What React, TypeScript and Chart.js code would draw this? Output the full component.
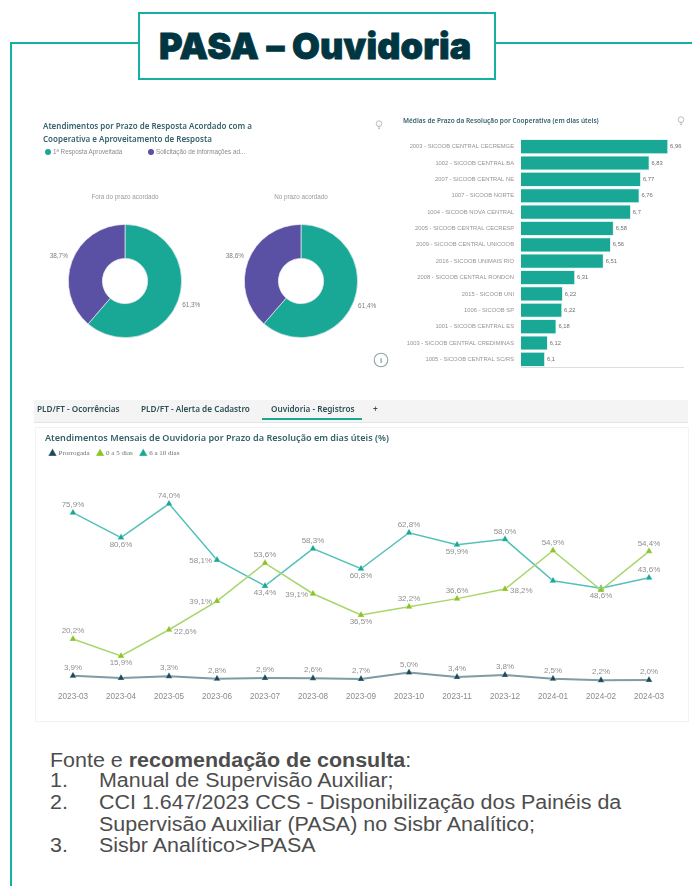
import React, { useEffect, useRef } from "react";
import { Chart, registerables } from "chart.js";

Chart.register(...registerables);

// ---------- donut data
const donutCategories = ["1ª Resposta Aproveitada", "Solicitação de informações ad..."];
const foraDoPrazo = [61.3, 38.7];
const noPrazo = [61.4, 38.6];
const foraLabels = ["61,3%", "38,7%"];
const noPrazoLabels = ["61,4%", "38,6%"];

// ---------- bar data
const cooperativas = [
  "2003 - SICOOB CENTRAL CECREMGE",
  "1002 - SICOOB CENTRAL BA",
  "2007 - SICOOB CENTRAL NE",
  "1007 - SICOOB NORTE",
  "1004 - SICOOB NOVA CENTRAL",
  "2005 - SICOOB CENTRAL CECRESP",
  "2009 - SICOOB CENTRAL UNICOOB",
  "2016 - SICOOB UNIMAIS RIO",
  "2008 - SICOOB CENTRAL RONDON",
  "2015 - SICOOB UNI",
  "1006 - SICOOB SP",
  "1001 - SICOOB CENTRAL ES",
  "1003 - SICOOB CENTRAL CREDIMINAS",
  "1005 - SICOOB CENTRAL SC/RS",
];
const mediasPrazo = [6.96, 6.83, 6.77, 6.76, 6.7, 6.58, 6.56, 6.51, 6.31, 6.225, 6.22, 6.18, 6.12, 6.1];
const mediasLabels = ["6,96", "6,83", "6,77", "6,76", "6,7", "6,58", "6,56", "6,51", "6,31", "6,22", "6,22", "6,18", "6,12", "6,1"];

// ---------- line data
const meses = [
  "2023-03", "2023-04", "2023-05", "2023-06", "2023-07", "2023-08", "2023-09",
  "2023-10", "2023-11", "2023-12", "2024-01", "2024-02", "2024-03",
];
const prorrogada = [4.0, 3.1, 3.8, 2.8, 3.1, 3.0, 2.7, 5.3, 3.5, 4.3, 2.8, 2.2, 2.3];
const zeroACinco = [19.0, 12.1, 22.8, 34.5, 50.0, 37.5, 28.8, 32.2, 35.5, 39.4, 55.1, 39.0, 54.8];
const seisADez = [70.6, 60.4, 74.2, 51.3, 40.7, 55.9, 47.7, 62.4, 57.5, 59.7, 42.8, 39.7, 44.0];
const prorrogadaLabels = ["3,9%", "", "3,3%", "2,8%", "2,9%", "2,6%", "2,7%", "5,0%", "3,4%", "3,8%", "2,5%", "2,2%", "2,0%"];
const zeroACincoLabels = ["20,2%", "15,9%", "22,6%", "39,1%", "53,6%", "39,1%", "36,5%", "32,2%", "36,6%", "38,2%", "54,9%", "", "54,4%"];
const seisADezLabels = ["75,9%", "80,6%", "74,0%", "58,1%", "43,4%", "58,3%", "60,8%", "62,8%", "59,9%", "58,0%", "", "48,6%", "43,6%"];

// label placement relative to each point: a above, b below, l left, r right
const prorrogadaPlace = "aaaaaaaaaaaaa".split("");
const zeroACincoPlace = "abrlalbaaraaa".split("");
const seisADezPlace = "abalbababaaba".split("");

const TEAL = "#19a896";
const PURPLE = "#5a50a4";
const GREY_TEXT = "#8f8f8f";
const SANS = "'Liberation Sans', Arial, sans-serif";
const PLEX = "'Noto Sans', sans-serif";

function DonutChart({ values, labels, title, left, top }: any) {
  const ref = useRef<HTMLCanvasElement>(null);
  useEffect(() => {
    const valuePlugin = {
      id: "donutLabels",
      afterDatasetsDraw(chart: any) {
        const ctx = chart.ctx;
        const meta = chart.getDatasetMeta(0);
        ctx.save();
        ctx.font = `6.4px ${SANS}`;
        ctx.fillStyle = "#7d7d7d";
        ctx.textAlign = "center";
        ctx.textBaseline = "middle";
        meta.data.forEach((arc: any, i: number) => {
          const mid = (arc.startAngle + arc.endAngle) / 2;
          const r = arc.outerRadius + 14;
          ctx.fillText(labels[i], arc.x + Math.cos(mid) * r, arc.y + Math.sin(mid) * r);
        });
        ctx.restore();
      },
    };
    const chart = new Chart(ref.current!, {
      type: "doughnut",
      data: {
        labels: donutCategories,
        datasets: [{ data: values, backgroundColor: [TEAL, PURPLE], borderColor: "#e9e9f2", borderWidth: 0.7 }],
      },
      options: {
        animation: false,
        responsive: false,
        cutout: "40%",
        layout: { padding: { left: 28, right: 28, top: 0, bottom: 25 } },
        plugins: {
          legend: { display: false },
          tooltip: { enabled: false },
          title: {
            display: true,
            text: title,
            color: "#9a9a9a",
            font: { family: SANS, size: 6.3, weight: "normal" },
            padding: { top: 0, bottom: 23.5 },
          },
        },
      } as any,
      plugins: [valuePlugin],
    });
    return () => chart.destroy();
  }, []);
  return <canvas ref={ref} width={170} height={170} style={{ position: "absolute", left, top }} />;
}

function BarChart() {
  const ref = useRef<HTMLCanvasElement>(null);
  useEffect(() => {
    const valuePlugin = {
      id: "barLabels",
      afterDatasetsDraw(chart: any) {
        const ctx = chart.ctx;
        ctx.save();
        ctx.font = `5.8px ${SANS}`;
        ctx.fillStyle = "#6f6f6f";
        ctx.textBaseline = "middle";
        chart.getDatasetMeta(0).data.forEach((bar: any, i: number) => {
          ctx.fillText(mediasLabels[i], bar.x + 2, bar.y);
        });
        ctx.restore();
      },
    };
    const chart = new Chart(ref.current!, {
      type: "bar",
      data: {
        labels: cooperativas,
        datasets: [{
          data: mediasPrazo,
          backgroundColor: TEAL,
          borderColor: "#cfeeea",
          borderWidth: 0.8,
          categoryPercentage: 1,
          barPercentage: 0.9,
        }],
      },
      options: {
        indexAxis: "y",
        animation: false,
        responsive: false,
        layout: { padding: { right: 9, top: 3.5 } },
        plugins: { legend: { display: false }, tooltip: { enabled: false } },
        scales: {
          x: {
            min: 5.933,
            max: 7.064,
            ticks: { display: false },
            grid: { display: false, drawTicks: false },
            border: { color: "#dddddd" },
            afterFit: (s: any) => { s.height = 5; },
          },
          y: {
            ticks: {
              color: "#949494",
              autoSkip: false,
              font: { family: SANS, size: 5.8 },
              padding: 7,
            },
            grid: { display: false, drawTicks: false },
            border: { display: false },
            afterFit: (s: any) => { s.width = 121; },
          },
        },
      } as any,
      plugins: [valuePlugin],
    });
    return () => chart.destroy();
  }, []);
  return <canvas ref={ref} width={292} height={250} style={{ position: "absolute", left: 400, top: 128 }} />;
}

function LineChart() {
  const ref = useRef<HTMLCanvasElement>(null);
  useEffect(() => {
    const texts = [prorrogadaLabels, zeroACincoLabels, seisADezLabels];
    const places = [prorrogadaPlace, zeroACincoPlace, seisADezPlace];
    const valuePlugin = {
      id: "lineLabels",
      beforeInit(chart: any) {
        const fit = chart.legend.fit;
        chart.legend.fit = function () {
          fit.call(this);
          this.height = 47.6;
        };
      },
      afterDatasetsDraw(chart: any) {
        const ctx = chart.ctx;
        ctx.save();
        ctx.font = `8px ${SANS}`;
        ctx.fillStyle = GREY_TEXT;
        chart.data.datasets.forEach((_: any, d: number) => {
          chart.getDatasetMeta(d).data.forEach((pt: any, i: number) => {
            const text = texts[d][i];
            if (!text) return;
            const place = places[d][i];
            let x = pt.x;
            let y = pt.y;
            ctx.textBaseline = "middle";
            ctx.textAlign = "center";
            if (place === "a") y -= 8;
            if (place === "b") y += 7;
            if (place === "l") { ctx.textAlign = "right"; x -= 5; y += 1; }
            if (place === "r") { ctx.textAlign = "left"; x += 5; y += 2; }
            ctx.fillText(text, x, y);
          });
        });
        ctx.restore();
      },
    };
    const series = (label: string, data: number[], line: string, mark: string, width: number) => ({
      label,
      data,
      borderColor: line,
      backgroundColor: mark,
      borderWidth: width,
      pointStyle: "triangle",
      pointRadius: 4,
      pointBackgroundColor: mark,
      pointBorderColor: "rgba(255,255,255,0.5)",
      pointBorderWidth: 0.6,
      tension: 0,
    });
    const chart = new Chart(ref.current!, {
      type: "line",
      data: {
        labels: meses,
        datasets: [
          series("Prorrogada", prorrogada, "#7e9ca4", "#1b4a5a", 2),
          series("0 a 5 dias", zeroACinco, "#a9d66c", "#8cc426", 1.5),
          series("6 a 10 dias", seisADez, "#53c1b8", TEAL, 1.5),
        ],
      },
      options: {
        animation: false,
        responsive: false,
        layout: { padding: { right: 15 } },
        plugins: {
          tooltip: { enabled: false },
          legend: {
            position: "top",
            align: "start",
            labels: {
              usePointStyle: true,
              pointStyle: "triangle",
              boxWidth: 5,
              boxHeight: 7,
              padding: 8,
              color: "#6e6e6e",
              font: { family: "'Liberation Serif', serif", size: 7 },
            },
          },
        },
        scales: {
          x: {
            offset: true,
            ticks: { color: "#8c8c8c", font: { family: SANS, size: 8.2 }, padding: 6, maxRotation: 0, autoSkip: false },
            grid: { display: false, drawTicks: false },
            border: { display: false },
            afterFit: (s: any) => { s.height = 30.4; },
          },
          y: {
            min: 0,
            max: 80,
            ticks: { display: false },
            grid: { display: false, drawTicks: false },
            border: { display: false },
            afterFit: (s: any) => { s.width = 7; },
          },
        },
      } as any,
      plugins: [valuePlugin],
    });
    return () => chart.destroy();
  }, []);
  return <canvas ref={ref} width={646} height={274} style={{ position: "absolute", left: 42, top: 442 }} />;
}

const abs = (left: number, top: number, extra: any = {}) => ({
  position: "absolute" as const,
  left,
  top,
  whiteSpace: "nowrap" as const,
  ...extra,
});

function Bulb({ x, y }: { x: number; y: number }) {
  return (
    <svg width="8" height="10" viewBox="0 0 8 10" style={{ position: "absolute", left: x - 4, top: y - 5 }}>
      <circle cx="4" cy="3.6" r="2.8" fill="none" stroke="#9aa5a5" strokeWidth="0.7" />
      <path d="M2.8 7 H5.2 M3 8.6 H5" stroke="#9aa5a5" strokeWidth="0.7" />
    </svg>
  );
}

export default function App() {
  const tab = { fontFamily: PLEX, fontWeight: 600, fontSize: 8.2, color: "#2f4f55", lineHeight: "10px" };
  const foot = { fontFamily: SANS, fontSize: 19.5, color: "#4d4d4d", lineHeight: "21px", transform: "scaleX(1.1)", transformOrigin: "left center" };
  return (
    <div style={{ position: "absolute", left: 0, top: 0, width: 692, height: 886, overflow: "hidden", background: "#fff" }}>
      {/* page frame */}
      <div style={{ position: "absolute", left: 10, top: 42, width: 128, height: 2, background: "#14b0a2" }} />
      <div style={{ position: "absolute", left: 496, top: 42, width: 196, height: 2, background: "#14b0a2" }} />
      <div style={{ position: "absolute", left: 10, top: 42, width: 2, height: 844, background: "#14b0a2" }} />
      <div style={{ position: "absolute", left: 138, top: 12, width: 354, height: 64, border: "2px solid #14b0a2", background: "#fff" }} />
      <div style={abs(159, 23, { fontFamily: "Inter, sans-serif", fontWeight: 900, fontSize: 36, lineHeight: "46px", letterSpacing: "0.15px", color: "#003641", WebkitTextStroke: "0.8px #003641" })}>
        PASA – Ouvidoria
      </div>

      {/* upper panels */}
      <div style={{ position: "absolute", left: 0, top: 0, width: 692, height: 390, filter: "blur(0.55px)" }}>
        <div style={abs(43, 119, { fontFamily: PLEX, fontWeight: 600, fontSize: 8, lineHeight: "13px", color: "#35626a" })}>
          Atendimentos por Prazo de Resposta Acordado com a<br />Cooperativa e Aproveitamento de Resposta
        </div>
        <div style={{ position: "absolute", left: 45, top: 149, width: 6, height: 6, borderRadius: 3, background: TEAL }} />
        <div style={abs(53, 148, { fontFamily: SANS, fontSize: 6.3, lineHeight: "8px", color: "#8a8a8a" })}>1ª Resposta Aproveitada</div>
        <div style={{ position: "absolute", left: 148, top: 149, width: 6, height: 6, borderRadius: 3, background: PURPLE }} />
        <div style={abs(156, 148, { fontFamily: SANS, fontSize: 6.3, lineHeight: "8px", color: "#8a8a8a" })}>Solicitação de informações ad...</div>
        <DonutChart values={foraDoPrazo} labels={foraLabels} title="Fora do prazo acordado" left={40} top={193} />
        <DonutChart values={noPrazo} labels={noPrazoLabels} title="No prazo acordado" left={216} top={193} />
        <Bulb x={379} y={125} />
        <Bulb x={681} y={121} />
        <svg width="16" height="16" viewBox="0 0 16 16" style={{ position: "absolute", left: 373, top: 352 }}>
          <circle cx="8" cy="8" r="6.8" fill="none" stroke="#8aa5a5" strokeWidth="1.1" />
          <text x="8" y="11" textAnchor="middle" fontFamily={SANS} fontSize="8" fontWeight="700" fill="#7c9a9a">i</text>
        </svg>
        <div style={abs(403, 117, { fontFamily: PLEX, fontWeight: 600, fontSize: 6.5, lineHeight: "8px", color: "#35626a" })}>
          Médias de Prazo da Resolução por Cooperativa (em dias úteis)
        </div>
        <BarChart />
      </div>

      {/* lower panel */}
      <div style={{ position: "absolute", left: 0, top: 390, width: 692, height: 340, filter: "blur(0.35px)" }}>
        <div style={{ position: "absolute", left: 34, top: 10, width: 654, height: 22, background: "#f4f4f4", borderBottom: "1px solid #e4e4e4" }} />
        <div style={{ position: "absolute", left: 35, top: 37, width: 652, height: 293, border: "1px solid #f3f3f3" }} />
        <div style={abs(37, 14, tab)}>PLD/FT - Ocorrências</div>
        <div style={abs(141, 14, tab)}>PLD/FT - Alerta de Cadastro</div>
        <div style={abs(271, 14, tab)}>Ouvidoria - Registros</div>
        <div style={abs(373, 14, tab)}>+</div>
        <div style={{ position: "absolute", left: 262, top: 28, width: 100, height: 2, background: TEAL }} />
        <div style={abs(45, 42, { fontFamily: PLEX, fontWeight: 600, fontSize: 9.1, lineHeight: "12px", color: "#35626a" })}>
          Atendimentos Mensais de Ouvidoria por Prazo da Resolução em dias úteis (%)
        </div>
      </div>
      <div style={{ position: "absolute", left: 0, top: 0, width: 692, height: 730, filter: "blur(0.35px)", pointerEvents: "none" }}>
        <LineChart />
      </div>

      {/* footer */}
      <div style={abs(50, 750, foot)}>Fonte e <b>recomendação de consulta</b>:</div>
      <div style={abs(50, 770, foot)}>1.</div>
      <div style={abs(99, 770, foot)}>Manual de Supervisão Auxiliar;</div>
      <div style={abs(50, 792, foot)}>2.</div>
      <div style={abs(99, 792, foot)}>CCI 1.647/2023 CCS - Disponibilização dos Painéis da</div>
      <div style={abs(99, 814, foot)}>Supervisão Auxiliar (PASA) no Sisbr Analítico;</div>
      <div style={abs(50, 835, foot)}>3.</div>
      <div style={abs(99, 835, foot)}>Sisbr Analítico&gt;&gt;PASA</div>
    </div>
  );
}
